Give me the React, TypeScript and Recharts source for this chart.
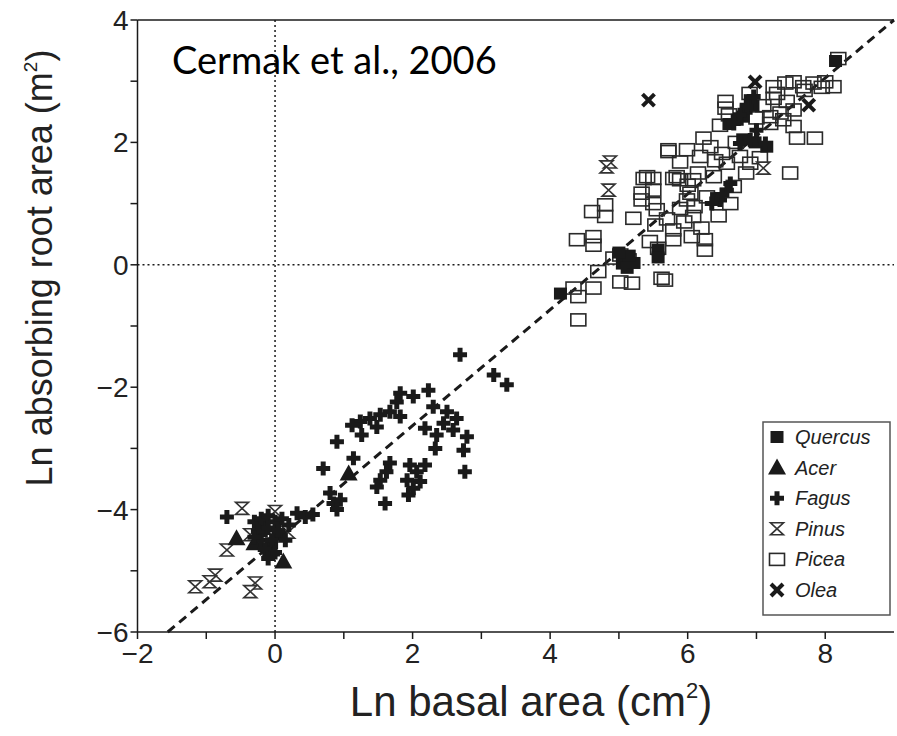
import React from 'react'
import { ScatterChart, Scatter, XAxis, YAxis, ReferenceLine } from 'recharts'

// values: [ln basal area (cm2), ln absorbing root area (m2)]
const quercus: [number, number][] = [
  [4.15, -0.47], [5.05, 0.02], [5.12, -0.05], [5.22, 0.03], [5.15, 0.15], [5.0, 0.2],
  [5.57, 0.25], [5.57, 0.12], [6.91, 2.69], [6.81, 2.42], [6.72, 2.37], [7.15, 1.93],
  [6.98, 2.0], [6.85, 2.55], [6.95, 2.6], [6.6, 2.3], [8.15, 3.33], [-0.05, -4.55],
  [0.05, -4.4], [-0.2, -4.35], [6.42, 1.09], [6.8, 2.05],
]
const acer: [number, number][] = [
  [-0.56, -4.47], [0.12, -4.85], [-0.3, -4.55], [-0.15, -4.25], [1.07, -3.41], [-0.05, -4.65],
]
const fagus: [number, number][] = [
  [-0.7, -4.12], [0.32, -4.06], [0.44, -4.12], [0.55, -4.08], [-0.3, -4.2], [-0.2, -4.15],
  [-0.1, -4.1], [0.0, -4.2], [0.1, -4.15], [-0.25, -4.35], [-0.1, -4.3], [0.05, -4.35],
  [-0.2, -4.5], [-0.05, -4.5], [-0.15, -4.65], [0.0, -4.7], [-0.1, -4.8], [-0.3, -4.45],
  [0.2, -4.25], [0.15, -4.5],
  [2.69, -1.47], [3.18, -1.8], [3.37, -1.96], [2.23, -2.05], [1.82, -2.1], [2.01, -2.15],
  [1.77, -2.24], [1.67, -2.4], [1.53, -2.45], [1.38, -2.51], [1.24, -2.56], [1.12, -2.62],
  [1.48, -2.65], [1.26, -2.78], [0.9, -2.89], [1.82, -2.48], [2.3, -2.32], [2.5, -2.4],
  [2.64, -2.51], [2.45, -2.59], [2.18, -2.67], [2.35, -2.78], [2.59, -2.7], [2.79, -2.81],
  [2.74, -3.03], [2.33, -3.0], [2.76, -3.38], [0.7, -3.33], [1.14, -3.16], [1.67, -3.24],
  [1.62, -3.38], [1.53, -3.52], [1.48, -3.63], [1.96, -3.27], [2.18, -3.27], [2.06, -3.38],
  [1.92, -3.52], [2.11, -3.54], [2.01, -3.65], [1.94, -3.76], [1.6, -3.9], [0.8, -3.73],
  [0.95, -3.84], [0.85, -3.9], [0.9, -4.0],
  [6.96, 2.75], [6.86, 2.58], [6.76, 2.45], [6.67, 2.31], [6.91, 2.04], [7.13, 1.98],
  [6.76, 1.98], [6.62, 1.33], [6.57, 1.22], [6.47, 1.06], [6.35, 1.0], [6.5, 1.15],
  [7.0, 2.2],
]
const pinus: [number, number][] = [
  [-0.48, -3.98], [-0.7, -4.66], [-0.87, -5.07], [-0.95, -5.18], [-1.16, -5.26], [-0.29, -5.2],
  [-0.36, -5.34], [-0.36, -4.41], [0.19, -4.37], [0.0, -4.03], [4.87, 1.68], [4.82, 1.6],
  [4.85, 1.22], [7.1, 1.58],
]
const picea: [number, number][] = [
  [4.41, -0.9], [4.41, -0.52], [4.34, -0.38], [4.63, -0.38], [4.7, -0.11], [5.02, -0.28],
  [5.19, -0.3], [5.62, -0.22], [5.67, -0.25], [4.92, 0.11], [5.02, 0.16], [5.14, 0.08],
  [5.57, 0.27], [5.45, 0.38], [4.39, 0.41], [4.63, 0.46], [4.63, 0.32], [5.21, 0.76],
  [5.53, 0.65], [5.79, 0.57], [5.79, 0.41], [6.06, 0.46], [6.25, 0.41], [6.25, 0.24],
  [4.61, 0.87], [4.8, 0.98], [4.8, 0.79], [5.36, 1.41], [5.5, 1.41], [5.33, 1.17],
  [5.33, 1.06], [5.5, 1.0], [5.55, 0.9], [5.79, 1.41], [5.89, 1.39], [5.72, 1.85],
  [5.89, 1.68], [5.99, 1.06], [6.08, 0.79], [5.89, 0.92],
  [8.19, 3.37], [8.12, 2.91], [8.0, 2.99], [7.83, 2.97], [7.68, 2.91], [7.54, 2.99],
  [7.42, 2.97], [7.25, 2.91], [7.25, 2.72], [7.44, 2.67], [7.54, 2.53], [7.35, 2.48],
  [7.2, 2.42], [7.2, 2.31], [7.39, 2.37], [7.54, 2.26], [7.59, 2.07], [7.85, 2.07],
  [6.55, 2.67], [6.55, 2.56], [6.47, 2.28], [6.23, 2.07], [6.33, 1.93], [5.72, 1.88],
  [5.99, 1.88], [6.18, 1.77], [6.5, 1.82], [6.57, 1.66], [6.76, 1.77], [6.91, 1.66],
  [7.49, 1.5], [5.41, 1.44], [5.84, 1.44], [6.08, 1.39], [6.38, 1.44], [6.67, 1.28],
  [6.04, 1.17], [6.28, 1.11], [6.62, 1.0], [5.5, 1.22],
  [6.0, 1.3], [6.15, 1.5], [6.4, 1.7], [6.7, 2.0], [7.0, 2.4], [7.1, 2.6], [7.3, 2.8],
  [6.1, 0.95], [6.45, 0.8], [6.2, 0.6], [5.95, 0.7], [5.7, 0.75], [7.7, 2.85], [7.95, 2.9],
  [6.9, 2.8], [6.6, 2.45], [7.05, 1.75], [6.85, 1.5],
]
const olea: [number, number][] = [[5.43, 2.69], [6.98, 2.99], [7.76, 2.61]]

const xTicks = [-2, -1, 0, 1, 2, 3, 4, 5, 6, 7, 8]
const yTicks = [-6, -5, -4, -3, -2, -1, 0, 1, 2, 3, 4]
const fitLine = [{ x: -1.56, y: -6 }, { x: 9, y: 4 }]

const INK = '#1a1a1a'
const FONT = '"Liberation Sans", Arial, sans-serif'

const toXY = (pts: [number, number][]) => pts.map(([x, y]) => ({ x, y }))
const fmt = (v: number) => (v < 0 ? '\u2212' + Math.abs(v) : String(v))

const QuercusShape = ({ cx, cy }: any) => <rect x={cx - 6.5} y={cy - 6} width={13} height={12} fill={INK} />
const AcerShape = ({ cx, cy }: any) => (
  <polygon points={`${cx},${cy - 9} ${cx - 9},${cy + 7} ${cx + 9},${cy + 7}`} fill={INK} />
)
const FagusShape = ({ cx, cy }: any) => (
  <path d={`M${cx - 7},${cy - 2.5}h14v5h-14z M${cx - 2.5},${cy - 7}h5v14h-5z`} fill={INK} />
)
const PinusShape = ({ cx, cy }: any) => (
  <polygon
    points={`${cx - 6.5},${cy - 6} ${cx + 6.5},${cy - 6} ${cx - 6.5},${cy + 6} ${cx + 6.5},${cy + 6}`}
    fill="#fff"
    stroke="#333"
    strokeWidth={1.6}
  />
)
const PiceaShape = ({ cx, cy }: any) => (
  <rect x={cx - 7.5} y={cy - 6} width={15} height={12} fill="none" stroke="#2a2a2a" strokeWidth={1.6} />
)
const OleaShape = ({ cx, cy }: any) => (
  <g stroke={INK} strokeWidth={4}>
    <line x1={cx - 6} y1={cy - 6} x2={cx + 6} y2={cy + 6} />
    <line x1={cx - 6} y1={cy + 6} x2={cx + 6} y2={cy - 6} />
  </g>
)

const SERIES = [
  { name: 'Picea', data: picea, Shape: PiceaShape },
  { name: 'Pinus', data: pinus, Shape: PinusShape },
  { name: 'Olea', data: olea, Shape: OleaShape },
  { name: 'Quercus', data: quercus, Shape: QuercusShape },
  { name: 'Acer', data: acer, Shape: AcerShape },
  { name: 'Fagus', data: fagus, Shape: FagusShape },
]
const LEGEND_ORDER = ['Quercus', 'Acer', 'Fagus', 'Pinus', 'Picea', 'Olea']

const XTick = ({ x, y, payload }: any) =>
  payload.value % 2 === 0 ? (
    <text x={x} y={y + 22} textAnchor="middle" fontSize={28} fontFamily={FONT} fill="#222">
      {fmt(payload.value)}
    </text>
  ) : null

const YTick = ({ x, y, payload }: any) =>
  payload.value % 2 === 0 ? (
    <text x={x} y={y + 10} textAnchor="end" fontSize={28} fontFamily={FONT} fill="#222">
      {fmt(payload.value)}
    </text>
  ) : null

export default function App() {
  return (
    <div style={{ position: 'relative', width: 897, height: 736, background: '#fff' }}>
      <style>{'body{margin:0}'}</style>
      <ScatterChart width={897} height={736} margin={{ top: 20, right: 3, left: 77.5, bottom: 74 }}>
        <XAxis
          type="number"
          dataKey="x"
          domain={[-2, 9]}
          ticks={xTicks}
          height={30}
          axisLine={{ stroke: INK, strokeWidth: 1.5 }}
          tickLine={{ stroke: INK, strokeWidth: 1.5 }}
          tickSize={7}
          tick={<XTick />}
        />
        <YAxis
          type="number"
          dataKey="y"
          domain={[-6, 4]}
          ticks={yTicks}
          width={60}
          axisLine={{ stroke: INK, strokeWidth: 1.5 }}
          tickLine={{ stroke: INK, strokeWidth: 1.5 }}
          tickSize={7}
          tick={<YTick />}
        />
        <ReferenceLine y={4} stroke={INK} strokeWidth={1.5} />
        <ReferenceLine x={0} stroke={INK} strokeWidth={1.5} strokeDasharray="2 3" />
        <ReferenceLine y={0} stroke={INK} strokeWidth={1.5} strokeDasharray="2 3" />
        <ReferenceLine segment={fitLine} stroke={INK} strokeWidth={3} strokeDasharray="9 6" />
        {SERIES.map((s) => (
          <Scatter
            key={s.name}
            name={s.name}
            data={toXY(s.data)}
            shape={(p: any) => <s.Shape cx={p.cx} cy={p.cy} />}
            isAnimationActive={false}
          />
        ))}
      </ScatterChart>

      <svg width={897} height={736} style={{ position: 'absolute', left: 0, top: 0, pointerEvents: 'none' }}>
        <text x={172} y={74} fontSize={38} fontFamily="Lato, sans-serif" fill="#000">
          Cermak et al., 2006
        </text>
        <text x={531} y={716} textAnchor="middle" fontSize={42} fontFamily={FONT} fill="#222">
          Ln basal area (cm
          <tspan fontSize={22} dy={-18}>2</tspan>
          <tspan dy={18}>)</tspan>
        </text>
        <text
          transform="translate(52,268) rotate(-90)"
          textAnchor="middle"
          fontSize={36}
          fontFamily={FONT}
          fill="#222"
        >
          Ln absorbing root area (m
          <tspan fontSize={19} dy={-15}>2</tspan>
          <tspan dy={15}>)</tspan>
        </text>
        <rect x={763} y={422} width={127} height={193} fill="#fff" stroke="#555" strokeWidth={1.5} />
        {LEGEND_ORDER.map((name, i) => {
          const s = SERIES.find((d) => d.name === name)!
          const cy = 437 + i * 30.6
          return (
            <g key={name}>
              <s.Shape cx={777} cy={cy} />
              <text x={795} y={cy + 7} fontSize={20} fontStyle="italic" fontFamily={FONT} fill="#222">
                {name}
              </text>
            </g>
          )
        })}
      </svg>
    </div>
  )
}
